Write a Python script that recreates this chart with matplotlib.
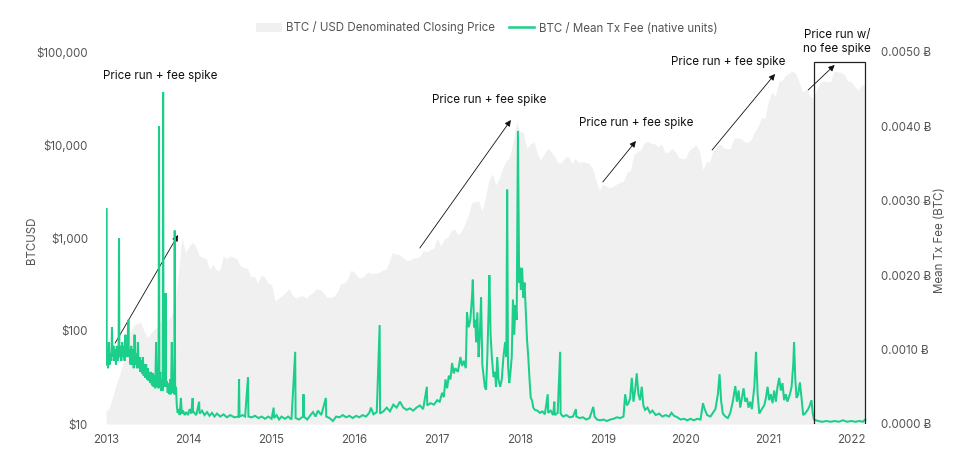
import numpy as np
import matplotlib
matplotlib.use("Agg")
import matplotlib.pyplot as plt
from matplotlib.patches import Patch, Rectangle
from matplotlib.lines import Line2D
from matplotlib.ticker import FixedLocator, FixedFormatter

plt.rcParams['font.family'] = ['Inter', 'Noto Sans', 'DejaVu Sans']

# ---- BTC/USD closing price, semi-monthly readings starting 2013-01-01 ----
price_usd = [
    # 2013
    13.5, 15, 20, 27, 34, 47, 130, 95, 115, 120, 125, 100,
    85, 95, 105, 110, 135, 130, 130, 150, 200, 420, 1000, 700,
    # 2014
    800, 900, 820, 650, 620, 600, 460, 520, 450, 450, 640, 600,
    640, 620, 590, 500, 480, 470, 380, 390, 330, 400, 380, 330,
    # 2015
    315, 210, 225, 240, 260, 285, 245, 225, 235, 240, 225, 245,
    260, 285, 280, 260, 230, 230, 237, 260, 320, 330, 360, 450,
    # 2016
    430, 380, 370, 400, 430, 415, 415, 425, 450, 455, 535, 700,
    670, 665, 620, 575, 575, 610, 610, 640, 730, 710, 750, 780,
    # 2017
    1000, 820, 970, 1010, 1190, 1250, 1080, 1180, 1420, 1750, 2400, 2450,
    2500, 1950, 2750, 4200, 4900, 3700, 4400, 5700, 6700, 7300, 10900, 17600,
    # 2018
    14000, 13600, 9200, 10200, 10900, 8200, 6900, 8000, 9200, 8500, 7500, 6500,
    6400, 7300, 7600, 6300, 7200, 6500, 6600, 6500, 6350, 5600, 4200, 3250,
    # 2019
    3800, 3600, 3450, 3600, 3800, 3950, 4100, 5100, 5350, 7900, 8500, 8800,
    10600, 11000, 10400, 10300, 9600, 10300, 8300, 8400, 9200, 8500, 7400, 7100,
    # 2020
    7200, 8800, 9350, 10000, 8600, 5400, 6600, 6600, 8800, 9700, 10200, 9400,
    9100, 9200, 11800, 11900, 11900, 10800, 10600, 11500, 13800, 16000, 19600, 19400,
    # 2021
    29400, 37000, 33500, 48000, 49600, 56000, 59000, 63000, 57800, 46000, 36700, 40200,
    33500, 31800, 39900, 47000, 48800, 48100, 48100, 62000, 61300, 60000, 57000, 48900,
    # 2022
    47700, 43000, 38500, 44500, 43000,
]
price_years = 2013 + np.arange(len(price_usd)) / 24.0

# ---- Mean transaction fee (BTC), readings (decimal year, BTC) ----
fee_points = [
    # 2013
    (2013.000, 0.0008), (2013.004, 0.0029), (2013.008, 0.0008), (2013.015, 0.0010),
    (2013.025, 0.00075), (2013.035, 0.0011), (2013.045, 0.0008), (2013.055, 0.00095),
    (2013.065, 0.00085), (2013.072, 0.0013), (2013.079, 0.0009), (2013.090, 0.00105),
    (2013.100, 0.00085), (2013.110, 0.0010), (2013.120, 0.0008), (2013.130, 0.00105),
    (2013.140, 0.00085), (2013.152, 0.0009), (2013.157, 0.0025), (2013.162, 0.0009),
    (2013.175, 0.00105), (2013.185, 0.00085), (2013.195, 0.0011), (2013.205, 0.0009),
    (2013.215, 0.00105), (2013.225, 0.00085), (2013.235, 0.0012), (2013.245, 0.0009),
    (2013.255, 0.00105), (2013.265, 0.0009), (2013.270, 0.0014), (2013.275, 0.0009),
    (2013.285, 0.0010), (2013.295, 0.0008), (2013.305, 0.00105), (2013.315, 0.0008),
    (2013.325, 0.0010), (2013.335, 0.00075), (2013.345, 0.0012), (2013.355, 0.0008),
    (2013.365, 0.00095), (2013.375, 0.00075), (2013.385, 0.0011), (2013.395, 0.00075),
    (2013.405, 0.0009), (2013.415, 0.0007), (2013.425, 0.00085), (2013.435, 0.00068),
    (2013.445, 0.0009), (2013.455, 0.00065), (2013.465, 0.0008), (2013.475, 0.00062),
    (2013.485, 0.0008), (2013.495, 0.0006), (2013.505, 0.00075), (2013.515, 0.00058),
    (2013.525, 0.0007), (2013.535, 0.00055), (2013.545, 0.0007), (2013.555, 0.00052),
    (2013.565, 0.00068), (2013.575, 0.0005), (2013.585, 0.00065), (2013.595, 0.00048),
    (2013.605, 0.0011), (2013.615, 0.0005), (2013.625, 0.00062), (2013.635, 0.00048),
    (2013.640, 0.0040), (2013.645, 0.0005), (2013.655, 0.0007), (2013.665, 0.00045),
    (2013.675, 0.0006), (2013.685, 0.00045), (2013.690, 0.00446), (2013.695, 0.0005),
    (2013.705, 0.0006), (2013.715, 0.0005), (2013.720, 0.00176), (2013.725, 0.0005),
    (2013.735, 0.00058), (2013.745, 0.00042), (2013.755, 0.00055), (2013.765, 0.0004),
    (2013.775, 0.0006), (2013.785, 0.0004), (2013.795, 0.0011), (2013.805, 0.00042),
    (2013.815, 0.00055), (2013.825, 0.0004), (2013.830, 0.0026), (2013.835, 0.0004),
    (2013.845, 0.0005), (2013.855, 0.00025), (2013.865, 0.00015), (2013.880, 0.0002),
    (2013.890, 0.00012), (2013.905, 0.00035), (2013.915, 0.00014), (2013.930, 0.00018),
    (2013.950, 0.00012), (2013.970, 0.00016), (2013.990, 0.00012),
    # 2014
    (2014.010, 0.0002), (2014.030, 0.00014), (2014.047, 0.00035), (2014.052, 0.00016),
    (2014.060, 0.00016), (2014.090, 0.00012), (2014.125, 0.0003), (2014.130, 0.00014),
    (2014.160, 0.00018), (2014.190, 0.00012), (2014.220, 0.00016), (2014.250, 0.00011),
    (2014.280, 0.00015), (2014.310, 0.0001), (2014.340, 0.00014), (2014.380, 0.0001),
    (2014.420, 0.00013), (2014.460, 0.00009), (2014.500, 0.00012), (2014.550, 0.00009),
    (2014.600, 0.0001), (2014.607, 0.0006), (2014.613, 0.0001), (2014.650, 0.00012),
    (2014.680, 0.0001), (2014.715, 0.00063), (2014.720, 0.0001), (2014.760, 0.00009),
    (2014.800, 0.00011), (2014.840, 0.00008), (2014.880, 0.0001), (2014.920, 0.00007),
    (2014.960, 0.0001),
    # 2015
    (2015.000, 0.00007), (2015.025, 0.00022), (2015.030, 0.00008), (2015.060, 0.00012),
    (2015.090, 0.00006), (2015.120, 0.0001), (2015.160, 0.00007), (2015.200, 0.0001),
    (2015.240, 0.00006), (2015.285, 0.00097), (2015.290, 0.00008), (2015.330, 0.00006),
    (2015.380, 0.0001), (2015.385, 0.0004), (2015.390, 0.0001), (2015.430, 0.00006),
    (2015.470, 0.00012), (2015.500, 0.00016), (2015.530, 0.0001), (2015.560, 0.00018),
    (2015.600, 0.00012), (2015.655, 0.00035), (2015.660, 0.0001), (2015.700, 0.00008),
    (2015.740, 0.00004), (2015.780, 0.0001), (2015.820, 0.00009), (2015.860, 0.00012),
    (2015.900, 0.00009), (2015.940, 0.00011), (2015.980, 0.00008),
    # 2016
    (2016.020, 0.00011), (2016.060, 0.00009), (2016.100, 0.00012), (2016.140, 0.0001),
    (2016.180, 0.00015), (2016.200, 0.00022), (2016.230, 0.00013), (2016.270, 0.00016),
    (2016.305, 0.00133), (2016.310, 0.00014), (2016.350, 0.00017), (2016.390, 0.00022),
    (2016.430, 0.00017), (2016.470, 0.00026), (2016.510, 0.00022), (2016.550, 0.0003),
    (2016.590, 0.00022), (2016.630, 0.00019), (2016.670, 0.00021), (2016.710, 0.00018),
    (2016.750, 0.00022), (2016.790, 0.00025), (2016.830, 0.0002), (2016.875, 0.0005),
    (2016.880, 0.00025), (2016.920, 0.00028), (2016.960, 0.00026),
    # 2017
    (2017.000, 0.00032), (2017.030, 0.0003), (2017.060, 0.00042), (2017.080, 0.00036),
    (2017.100, 0.0006), (2017.120, 0.00048), (2017.140, 0.00065), (2017.160, 0.0006),
    (2017.180, 0.00082), (2017.200, 0.00068), (2017.220, 0.00075), (2017.250, 0.0007),
    (2017.280, 0.0009), (2017.300, 0.00078), (2017.320, 0.00085), (2017.345, 0.00075),
    (2017.360, 0.0015), (2017.380, 0.0013), (2017.400, 0.0014), (2017.420, 0.0017),
    (2017.430, 0.00194), (2017.445, 0.0013), (2017.460, 0.0014), (2017.470, 0.0011),
    (2017.485, 0.0015), (2017.500, 0.0009), (2017.515, 0.0012), (2017.530, 0.0017),
    (2017.545, 0.0008), (2017.560, 0.00065), (2017.575, 0.0005), (2017.590, 0.00046),
    (2017.605, 0.0009), (2017.620, 0.0015), (2017.630, 0.0020), (2017.645, 0.0012),
    (2017.660, 0.0009), (2017.680, 0.00063), (2017.700, 0.0007), (2017.710, 0.0005),
    (2017.725, 0.0009), (2017.740, 0.0006), (2017.760, 0.0005), (2017.780, 0.0006),
    (2017.800, 0.0009), (2017.820, 0.0011), (2017.835, 0.0009), (2017.845, 0.00315),
    (2017.855, 0.0008), (2017.870, 0.00055), (2017.885, 0.0007), (2017.900, 0.0009),
    (2017.915, 0.00167), (2017.930, 0.0012), (2017.945, 0.0016), (2017.960, 0.0014),
    (2017.975, 0.00394), (2017.990, 0.0019),
    # 2018
    (2018.000, 0.0021), (2018.010, 0.0018), (2018.025, 0.0021), (2018.040, 0.0017),
    (2018.055, 0.0019), (2018.070, 0.0015), (2018.085, 0.00113), (2018.100, 0.0009),
    (2018.115, 0.0006), (2018.130, 0.00035), (2018.145, 0.00032), (2018.160, 0.00022),
    (2018.180, 0.00019), (2018.210, 0.00018), (2018.240, 0.00015), (2018.270, 0.00017),
    (2018.300, 0.00013), (2018.335, 0.0004), (2018.340, 0.00015), (2018.370, 0.00018),
    (2018.400, 0.00012), (2018.415, 0.0003), (2018.420, 0.00012), (2018.455, 0.00015),
    (2018.485, 0.00097), (2018.490, 0.00014), (2018.520, 0.0001), (2018.560, 0.00012),
    (2018.600, 0.00009), (2018.640, 0.0001), (2018.675, 0.0002), (2018.680, 0.0001),
    (2018.720, 0.00008), (2018.760, 0.00009), (2018.800, 0.00006), (2018.840, 0.00008),
    (2018.885, 0.00023), (2018.900, 0.0001), (2018.930, 0.00006), (2018.970, 0.00005),
    # 2019
    (2019.010, 0.00006), (2019.050, 0.00004), (2019.090, 0.00006), (2019.130, 0.00007),
    (2019.170, 0.00009), (2019.210, 0.00008), (2019.250, 0.0001), (2019.270, 0.0004),
    (2019.290, 0.00025), (2019.310, 0.00028), (2019.330, 0.00035), (2019.350, 0.00062),
    (2019.370, 0.0003), (2019.390, 0.00045), (2019.410, 0.00068), (2019.430, 0.0004),
    (2019.450, 0.00032), (2019.470, 0.0005), (2019.490, 0.00025), (2019.510, 0.00019),
    (2019.540, 0.00022), (2019.570, 0.00015), (2019.600, 0.00018), (2019.640, 0.00012),
    (2019.680, 0.00014), (2019.720, 0.0001), (2019.760, 0.00012), (2019.800, 0.0001),
    (2019.830, 0.00015), (2019.860, 0.00011), (2019.900, 0.00009), (2019.940, 0.00006),
    (2019.980, 0.00007),
    # 2020
    (2020.020, 0.00005), (2020.060, 0.00007), (2020.100, 0.00005), (2020.140, 0.00007),
    (2020.180, 0.00006), (2020.210, 0.00028), (2020.230, 0.0002), (2020.260, 0.00012),
    (2020.300, 0.0001), (2020.330, 0.00015), (2020.360, 0.0002), (2020.390, 0.0004),
    (2020.410, 0.00067), (2020.430, 0.0003), (2020.450, 0.00014), (2020.480, 0.0001),
    (2020.510, 0.00008), (2020.540, 0.00015), (2020.570, 0.0003), (2020.600, 0.00051),
    (2020.620, 0.0003), (2020.640, 0.00045), (2020.660, 0.00022), (2020.680, 0.00035),
    (2020.700, 0.00048), (2020.720, 0.0003), (2020.740, 0.00035), (2020.760, 0.00022),
    (2020.780, 0.0003), (2020.800, 0.0002), (2020.830, 0.0005), (2020.850, 0.00097),
    (2020.870, 0.0004), (2020.890, 0.00014), (2020.920, 0.0002), (2020.950, 0.00025),
    (2020.970, 0.00035), (2020.990, 0.0005),
    # 2021
    (2021.010, 0.00032), (2021.030, 0.0004), (2021.050, 0.00028), (2021.070, 0.00045),
    (2021.090, 0.0003), (2021.110, 0.0005), (2021.130, 0.00062), (2021.150, 0.00045),
    (2021.170, 0.00055), (2021.190, 0.00032), (2021.210, 0.0004), (2021.230, 0.0003),
    (2021.260, 0.0004), (2021.280, 0.0005), (2021.300, 0.0008), (2021.310, 0.0011),
    (2021.325, 0.0006), (2021.340, 0.00035), (2021.360, 0.0004), (2021.380, 0.00056),
    (2021.400, 0.00035), (2021.420, 0.00012), (2021.450, 0.00015), (2021.480, 0.0002),
    (2021.500, 0.00025), (2021.520, 0.00032), (2021.535, 0.00015), (2021.550, 0.00006),
    (2021.600, 0.00004), (2021.650, 0.00003), (2021.700, 0.00004), (2021.750, 0.00003),
    (2021.800, 0.00004), (2021.850, 0.00003), (2021.900, 0.00005), (2021.950, 0.00003),
    # 2022
    (2022.000, 0.00004), (2022.050, 0.00003), (2022.100, 0.00004), (2022.140, 0.00003),
    (2022.170, 0.00006),
]
fee_years = [p[0] for p in fee_points]
fee_btc = [p[1] for p in fee_points]

year_ticks = [2013, 2014, 2015, 2016, 2017, 2018, 2019, 2020, 2021, 2022]
usd_ticks = [10, 100, 1000, 10000, 100000]
usd_labels = ["$10", "$100", "$1,000", "$10,000", "$100,000"]
fee_ticks = [0.0, 0.001, 0.002, 0.003, 0.004, 0.005]
fee_labels = ["0.0000 \u0243", "0.0010 \u0243", "0.0020 \u0243", "0.0030 \u0243",
              "0.0040 \u0243", "0.0050 \u0243"]

annotations = [
    # text, text pos (year, usd), arrow tail, arrow head
    ("Price run + fee spike", (2013.65, 55200), (2013.11, 74), (2013.87, 1077)),
    ("Price run + fee spike", (2017.63, 30500), (2016.79, 780), (2017.89, 18560)),
    ("Price run + fee spike", (2019.41, 17250), (2019.00, 4000), (2019.40, 11040)),
    ("Price run + fee spike", (2020.51, 78000), (2020.32, 8830), (2021.08, 58000)),
    ("Price run w/\nno fee spike", (2021.83, 128000), (2021.48, 39000), (2021.80, 72500)),
]
box_years = (2021.55, 2022.17)
box_fee = (-0.00002, 0.00487)

GREEN = "#1bcf8b"
FILL = "#f0f0f0"
TICK = "#555555"
FS = 8.3

fig = plt.figure(figsize=(9.61, 4.58), dpi=100)
ax = fig.add_axes([106 / 961, 34 / 458, 762 / 961, 372 / 458])
ax.set_yscale("log")
ax.fill_between(price_years, 10, price_usd, color=FILL, linewidth=0)
ax.set_ylim(10, 100000)
ax.set_xlim(2013.0, 2013.0 + 762 / 82.8)
ax.yaxis.set_major_locator(FixedLocator(usd_ticks))
ax.yaxis.set_major_formatter(FixedFormatter(usd_labels))
ax.yaxis.set_minor_locator(FixedLocator([]))
ax.set_xticks(year_ticks)
ax.set_xticklabels([str(y) for y in year_ticks])
for s in ax.spines.values():
    s.set_visible(False)
ax.tick_params(axis="both", length=0, labelsize=FS, colors=TICK)
ax.tick_params(axis="y", pad=13)
ax.tick_params(axis="x", pad=7)

ax2 = ax.twinx()
ax2.plot(fee_years, fee_btc, color=GREEN, linewidth=1.45, solid_joinstyle="miter")
ax2.set_ylim(0, 0.005)
ax2.set_yticks(fee_ticks)
ax2.set_yticklabels(fee_labels)
for s in ax2.spines.values():
    s.set_visible(False)
ax2.tick_params(axis="y", length=0, labelsize=FS, colors=TICK, pad=9)
ax2.add_patch(Rectangle((box_years[0], box_fee[0]), box_years[1] - box_years[0],
                        box_fee[1] - box_fee[0], fill=False, edgecolor="#222222",
                        linewidth=0.9, zorder=5))

for text, tpos, tail, head in annotations:
    ax.annotate("", xy=head, xytext=tail, xycoords="data", textcoords="data",
                arrowprops=dict(arrowstyle="-|>", color="#111111", lw=0.6,
                                mutation_scale=9, shrinkA=0, shrinkB=0), zorder=6)
    ax.text(tpos[0], tpos[1], text, ha="center", va="center", fontsize=8.4,
            color="#111111", linespacing=1.3, clip_on=False, zorder=6)

fig.text(32 / 961, 1 - 240 / 458, "BTCUSD", rotation=90, ha="center", va="center",
         fontsize=FS, color=TICK)
fig.text(940 / 961, 1 - 240 / 458, "Mean Tx Fee (BTC)", rotation=90, ha="center",
         va="center", fontsize=FS, color=TICK)

handles = [Patch(facecolor=FILL, edgecolor="none"),
           Line2D([0], [0], color=GREEN, linewidth=1.8)]
fig.legend(handles, ["BTC / USD Denominated Closing Price", "BTC / Mean Tx Fee (native units)"],
           loc="center", bbox_to_anchor=(487 / 961, 1 - 28 / 458), ncol=2, frameon=False,
           fontsize=FS, labelcolor=TICK, handlelength=2.2, handleheight=0.9,
           columnspacing=1.2, handletextpad=0.4)

fig.savefig("out.png", dpi=100)
